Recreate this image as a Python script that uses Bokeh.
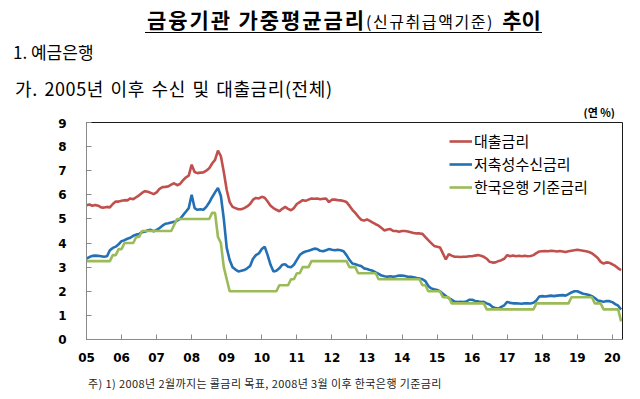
from bokeh.plotting import figure
from bokeh.layouts import column
from bokeh.models import (Legend, LegendItem, FixedTicker, ColumnDataSource, Range1d, Div)
from bokeh.embed import file_html
from bokeh.resources import INLINE

# ---------------- data (monthly, Jan 2005 - Apr 2020) ----------------
years = list(range(2005, 2021))
year_labels = ["05", "06", "07", "08", "09", "10", "11", "12", "13", "14",
               "15", "16", "17", "18", "19", "20"]
y_ticks = [0, 1, 2, 3, 4, 5, 6, 7, 8, 9]

lending = [
    5.57, 5.60, 5.55, 5.58, 5.55, 5.48, 5.47, 5.50, 5.48, 5.62, 5.72, 5.72,  # 2005
    5.75, 5.78, 5.77, 5.85, 5.82, 5.90, 5.98, 6.08, 6.15, 6.13, 6.08, 6.03,  # 2006
    6.10, 6.25, 6.32, 6.33, 6.35, 6.42, 6.48, 6.40, 6.45, 6.60, 6.72, 6.80,  # 2007
    7.25, 6.95, 6.90, 6.92, 6.93, 7.00, 7.10, 7.30, 7.45, 7.83, 7.60, 6.95,  # 2008
    6.20, 5.70, 5.50, 5.45, 5.40, 5.40, 5.45, 5.52, 5.62, 5.80, 5.87, 5.85,  # 2009
    5.92, 5.88, 5.72, 5.55, 5.45, 5.38, 5.32, 5.42, 5.50, 5.42, 5.36, 5.45,  # 2010
    5.62, 5.70, 5.78, 5.75, 5.80, 5.85, 5.84, 5.85, 5.82, 5.84, 5.85, 5.70,  # 2011
    5.80, 5.80, 5.78, 5.77, 5.74, 5.70, 5.55, 5.38, 5.25, 5.10, 4.97, 4.93,  # 2012
    4.98, 4.92, 4.85, 4.78, 4.72, 4.62, 4.52, 4.56, 4.58, 4.50, 4.50, 4.47,  # 2013
    4.50, 4.50, 4.48, 4.45, 4.42, 4.40, 4.40, 4.38, 4.25, 4.12, 4.00, 3.88,  # 2014
    3.85, 3.82, 3.57, 3.32, 3.54, 3.48, 3.43, 3.43, 3.42, 3.43, 3.43, 3.45,  # 2015
    3.45, 3.48, 3.50, 3.47, 3.43, 3.35, 3.22, 3.19, 3.20, 3.25, 3.29, 3.35,  # 2016
    3.50, 3.45, 3.48, 3.45, 3.47, 3.45, 3.47, 3.45, 3.46, 3.50, 3.58, 3.65,  # 2017
    3.66, 3.67, 3.66, 3.68, 3.67, 3.65, 3.67, 3.65, 3.63, 3.66, 3.68, 3.70,  # 2018
    3.72, 3.70, 3.68, 3.66, 3.63, 3.58, 3.48, 3.38, 3.22, 3.15, 3.20, 3.18,  # 2019
    3.12, 3.05, 2.95, 2.88,                                                  # 2020
]

deposit = [
    3.36, 3.42, 3.47, 3.48, 3.47, 3.45, 3.43, 3.45, 3.70, 3.80, 3.85, 3.95,  # 2005
    4.08, 4.12, 4.18, 4.22, 4.30, 4.35, 4.38, 4.45, 4.47, 4.53, 4.55, 4.48,  # 2006
    4.55, 4.62, 4.72, 4.80, 4.82, 4.85, 4.88, 4.93, 5.00, 5.15, 5.30, 5.45,  # 2007
    6.00, 5.45, 5.38, 5.40, 5.38, 5.50, 5.68, 5.90, 6.10, 6.29, 5.95, 5.00,  # 2008
    3.80, 3.30, 3.00, 2.90, 2.82, 2.85, 2.88, 2.95, 3.05, 3.35, 3.50, 3.57,  # 2009
    3.75, 3.85, 3.50, 3.10, 2.82, 2.85, 2.95, 3.10, 3.12, 3.02, 3.00, 3.10,  # 2010
    3.30, 3.50, 3.60, 3.65, 3.68, 3.72, 3.77, 3.75, 3.68, 3.66, 3.70, 3.75,  # 2011
    3.72, 3.70, 3.72, 3.70, 3.66, 3.50, 3.30, 3.15, 3.12, 3.08, 3.05, 2.95,  # 2012
    2.92, 2.88, 2.85, 2.78, 2.72, 2.65, 2.62, 2.60, 2.62, 2.60, 2.62, 2.65,  # 2013
    2.65, 2.63, 2.60, 2.60, 2.58, 2.55, 2.53, 2.50, 2.42, 2.22, 2.12, 2.08,  # 2014
    2.05, 2.00, 1.90, 1.80, 1.72, 1.65, 1.57, 1.55, 1.56, 1.55, 1.57, 1.65,  # 2015
    1.65, 1.60, 1.58, 1.55, 1.56, 1.50, 1.45, 1.35, 1.30, 1.28, 1.35, 1.42,  # 2016
    1.56, 1.52, 1.50, 1.50, 1.49, 1.48, 1.50, 1.50, 1.49, 1.52, 1.62, 1.78,  # 2017
    1.80, 1.78, 1.80, 1.82, 1.80, 1.82, 1.83, 1.84, 1.82, 1.88, 1.95, 2.00,  # 2018
    2.00, 1.95, 1.90, 1.88, 1.85, 1.80, 1.72, 1.62, 1.60, 1.56, 1.60, 1.59,  # 2019
    1.55, 1.47, 1.40, 1.24,                                                  # 2020
]

base_rate = [
    3.25, 3.25, 3.25, 3.25, 3.25, 3.25, 3.25, 3.25, 3.25, 3.50, 3.50, 3.75,  # 2005
    3.75, 4.00, 4.00, 4.00, 4.00, 4.25, 4.25, 4.50, 4.50, 4.50, 4.50, 4.50,  # 2006
    4.50, 4.50, 4.50, 4.50, 4.50, 4.50, 4.75, 5.00, 5.00, 5.00, 5.00, 5.00,  # 2007
    5.00, 5.00, 5.00, 5.00, 5.00, 5.00, 5.00, 5.25, 5.25, 4.25, 4.00, 3.00,  # 2008
    2.50, 2.00, 2.00, 2.00, 2.00, 2.00, 2.00, 2.00, 2.00, 2.00, 2.00, 2.00,  # 2009
    2.00, 2.00, 2.00, 2.00, 2.00, 2.00, 2.25, 2.25, 2.25, 2.25, 2.50, 2.50,  # 2010
    2.75, 2.75, 3.00, 3.00, 3.00, 3.25, 3.25, 3.25, 3.25, 3.25, 3.25, 3.25,  # 2011
    3.25, 3.25, 3.25, 3.25, 3.25, 3.25, 3.00, 3.00, 3.00, 2.75, 2.75, 2.75,  # 2012
    2.75, 2.75, 2.75, 2.75, 2.50, 2.50, 2.50, 2.50, 2.50, 2.50, 2.50, 2.50,  # 2013
    2.50, 2.50, 2.50, 2.50, 2.50, 2.50, 2.50, 2.25, 2.25, 2.00, 2.00, 2.00,  # 2014
    2.00, 2.00, 1.75, 1.75, 1.75, 1.50, 1.50, 1.50, 1.50, 1.50, 1.50, 1.50,  # 2015
    1.50, 1.50, 1.50, 1.50, 1.50, 1.25, 1.25, 1.25, 1.25, 1.25, 1.25, 1.25,  # 2016
    1.25, 1.25, 1.25, 1.25, 1.25, 1.25, 1.25, 1.25, 1.25, 1.25, 1.50, 1.50,  # 2017
    1.50, 1.50, 1.50, 1.50, 1.50, 1.50, 1.50, 1.50, 1.50, 1.50, 1.75, 1.75,  # 2018
    1.75, 1.75, 1.75, 1.75, 1.75, 1.75, 1.50, 1.50, 1.50, 1.25, 1.25, 1.25,  # 2019
    1.25, 1.25, 1.25, 0.75,                                                  # 2020
]

series_names = ["대출금리", "저축성수신금리", "한국은행 기준금리"]

t = [2005 + i / 12 for i in range(len(lending))]
src = ColumnDataSource(dict(t=t, lend=lending, dep=deposit, base=base_rate))

W = 640
TOP_H, MAIN_H, BOT_H = 118, 250, 31
FONT = "'Noto Sans CJK KR'"


def span(txt, x, y, size, bold=False, align="left", color="black", extra=""):
    pos = f"left:{x}px;" if align == "left" else f"right:{W - x}px;"
    weight = "bold" if bold else "normal"
    return (f'<span style="position:absolute;{pos}top:{y - size / 2:.1f}px;'
            f'font-family:{FONT};font-size:{size}px;line-height:{size}px;'
            f'font-weight:{weight};color:{color};white-space:nowrap;{extra}">{txt}</span>')


def box(html, height):
    return (f'<div style="position:relative;width:{W}px;height:{height}px;margin:0;padding:0;">'
            f'{html}</div>')


# ---------------- top text block (page y 0 .. 118) ----------------
title_html = (
    '<span style="font-size:21px;letter-spacing:1.9px;">금융기관 가중평균금리</span>'
    '<span style="font-size:16px;font-weight:normal;letter-spacing:1.6px;">(신규취급액기준)</span>'
    '<span style="font-size:21px;margin-left:8px;letter-spacing:0px;">추이</span>'
)
top_html = (
    f'<span style="position:absolute;left:147px;top:8px;font-family:{FONT};'
    f'font-weight:bold;line-height:22px;white-space:nowrap;color:black;">{title_html}</span>'
    + '<div style="position:absolute;left:145px;top:32px;width:397px;height:0;'
      'border-top:1.5px solid black;"></div>'
    + span("1. 예금은행", 13, 51.5, 17)
    + span("가. 2005년 이후 수신 및 대출금리(전체)", 15, 87.5, 18,
           extra="letter-spacing:0.6px;word-spacing:2px;")
    + span("(연 %)", 615, 112, 11, bold=True, align="right")
)
top = Div(text=box(top_html, TOP_H), width=W, height=TOP_H, margin=0)

# ---------------- main chart (page y 118 .. 368) ----------------
FL, FR, FT, FB = 86, 18, 4, 29
p = figure(width=W, height=MAIN_H, output_backend="svg", toolbar_location=None, title=None,
           x_range=Range1d(2005, 2020.29), y_range=Range1d(0, 9),
           min_border_left=FL, min_border_right=FR, min_border_top=FT, min_border_bottom=FB)
p.background_fill_color = "white"
p.border_fill_color = "white"
p.outline_line_color = "#1a1a1a"
p.outline_line_width = 1
p.xgrid.visible = False
p.ygrid.visible = False

AXC = "#8a8a8a"
for ax in (p.xaxis[0], p.yaxis[0]):
    ax.axis_line_color = AXC
    ax.axis_line_width = 1
    ax.major_tick_line_color = AXC
    ax.major_tick_in = 5
    ax.major_tick_out = 0
    ax.minor_tick_line_color = None
    ax.major_label_text_font = "DejaVu Sans"
    ax.major_label_text_font_style = "bold"
    ax.major_label_text_font_size = "12px"
    ax.major_label_text_color = "black"

p.xaxis.ticker = FixedTicker(ticks=years)
p.xaxis.major_label_overrides = {y: lab for y, lab in zip(years, year_labels)}
p.xaxis.major_label_standoff = 13
p.yaxis.ticker = FixedTicker(ticks=y_ticks)
p.yaxis.major_label_standoff = 20

r_lend = p.line("t", "lend", source=src, line_color="#C0504D", line_width=2.6)
r_dep = p.line("t", "dep", source=src, line_color="#2370B5", line_width=2.6)
r_base = p.line("t", "base", source=src, line_color="#9BBB59", line_width=2.6)

legend = Legend(items=[LegendItem(label=series_names[0], renderers=[r_lend]),
                       LegendItem(label=series_names[1], renderers=[r_dep]),
                       LegendItem(label=series_names[2], renderers=[r_base])],
                location=(363, 142))
legend.glyph_width = 23
legend.glyph_height = 20
legend.label_height = 20
legend.label_standoff = 2
legend.spacing = 2
legend.padding = 0
legend.margin = 0
legend.border_line_alpha = 0
legend.background_fill_alpha = 0
legend.label_text_font = "Noto Sans CJK KR"
legend.label_text_font_size = "15px"
legend.label_text_color = "black"
p.add_layout(legend, "center")

# ---------------- footnote block (page y 368 .. 399) ----------------
bot_html = span("주) 1) 2008년 2월까지는 콜금리 목표, 2008년 3월 이후 한국은행 기준금리",
                88, 383 - 368, 11, color="#222222", extra="letter-spacing:0.4px;")
bot = Div(text=box(bot_html, BOT_H), width=W, height=BOT_H, margin=0)

layout = column(top, p, bot, spacing=0)
open("out.html", "w").write(file_html(layout, INLINE))
